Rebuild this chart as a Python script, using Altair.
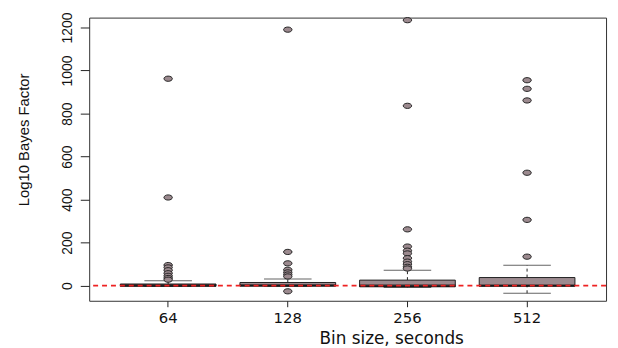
import altair as alt
import pandas as pd

bins = ["64", "128", "256", "512"]
q1 = [-2, -1, -5, -1]
med = [1, 1, 0, 0]
q3 = [8, 15, 26, 38]
whisk_lo = [-3, -2, -8, -35]
whisk_hi = [23, 31, 72, 95]

out_64 = [962, 410, 96, 85, 72, 58, 46, 36, 28]
out_128 = [1190, 157, 104, 74, 62, 52, 43, -26]
out_256 = [1234, 836, 262, 182, 163, 150, 128, 112, 100, 88, 80]
out_512 = [955, 915, 861, 525, 306, 135]

y_ticks = [0, 200, 400, 600, 800, 1000, 1200]

stats = pd.DataFrame({"bin": bins, "q1": q1, "med": med, "q3": q3,
                      "lo": whisk_lo, "hi": whisk_hi})
outs = pd.DataFrame(
    [{"bin": b, "v": v} for b, lst in zip(bins, [out_64, out_128, out_256, out_512]) for v in lst]
)

FILL = "#9c8a8f"
DARK = "#222222"

xscale = alt.Scale(domain=bins, paddingInner=0.2, paddingOuter=0.26)
yscale = alt.Scale(domain=[-70, 1246], nice=False, zero=False)

xaxis = alt.Axis(title="Bin size, seconds", labelAngle=0, domain=False, grid=False,
                 tickSize=6, tickColor=DARK, labelPadding=4, labelBaseline="top",
                 labelFont="DejaVu Sans", labelFontSize=15, labelColor="#111",
                 titleFont="DejaVu Sans", titleFontSize=17, titleFontWeight="normal",
                 titleColor="#111", titleX=305, titleY=30, titleBaseline="top",
                 titleAlign="center")
yaxis = alt.Axis(title="Log10 Bayes Factor", values=y_ticks, format="d",
                 domain=False, grid=False,
                 tickSize=9, tickColor=DARK, labelAngle=270, labelAlign="center",
                 labelBaseline="middle", labelPadding=13,
                 labelFont="Liberation Sans", labelFontSize=14, labelColor="#111",
                 titleFont="Liberation Sans", titleFontSize=15, titleFontWeight="normal",
                 titleColor="#111", titleAngle=270, titleX=-66, titleY=123,
                 titleAlign="center", titleBaseline="middle")

base = alt.Chart(stats)
X = alt.X("bin:N", sort=bins, scale=xscale, axis=xaxis)

whisk_up = base.mark_rule(color=DARK, strokeWidth=1, strokeDash=[3, 3]).encode(
    x=X, y=alt.Y("q3:Q", scale=yscale, axis=yaxis), y2="hi:Q")
whisk_dn = base.mark_rule(color=DARK, strokeWidth=1, strokeDash=[3, 3]).encode(
    x=X, y=alt.Y("lo:Q", scale=yscale), y2="q1:Q")
cap_hi = base.mark_tick(color=DARK, size=48, thickness=1).encode(
    x=X, y=alt.Y("hi:Q", scale=yscale))
cap_lo = base.mark_tick(color=DARK, size=48, thickness=1).encode(
    x=X, y=alt.Y("lo:Q", scale=yscale))
box = base.mark_bar(color=FILL, stroke=DARK, strokeWidth=1).encode(
    x=X, y=alt.Y("q1:Q", scale=yscale), y2="q3:Q")
median = base.mark_tick(color="#000", size=97, thickness=2.5).encode(
    x=X, y=alt.Y("med:Q", scale=yscale))

ellipse = "M-1,0 A1,0.62 0 1,1 1,0 A1,0.62 0 1,1 -1,0 Z"
points = alt.Chart(outs).mark_point(shape=ellipse, size=72, filled=True, fill=FILL,
                                    stroke=DARK, strokeWidth=1, opacity=1).encode(
    x=X, y=alt.Y("v:Q", scale=yscale))

zero_line = alt.Chart(pd.DataFrame({"z": [0]})).mark_rule(
    color="#ee2222", strokeWidth=1.8, strokeDash=[5, 4]).encode(
    y=alt.Y("z:Q", scale=yscale))

chart = alt.layer(whisk_up, whisk_dn, cap_hi, cap_lo, box, median, points, zero_line).properties(
    width=522, height=286,
    autosize=alt.AutoSizeParams(type="none"),
    padding={"left": 82, "top": 8, "right": 4, "bottom": 46},
    background="white",
).configure_view(stroke="#333333", strokeWidth=1)

chart.save("out.html", embed_options={"renderer": "svg", "actions": False})
